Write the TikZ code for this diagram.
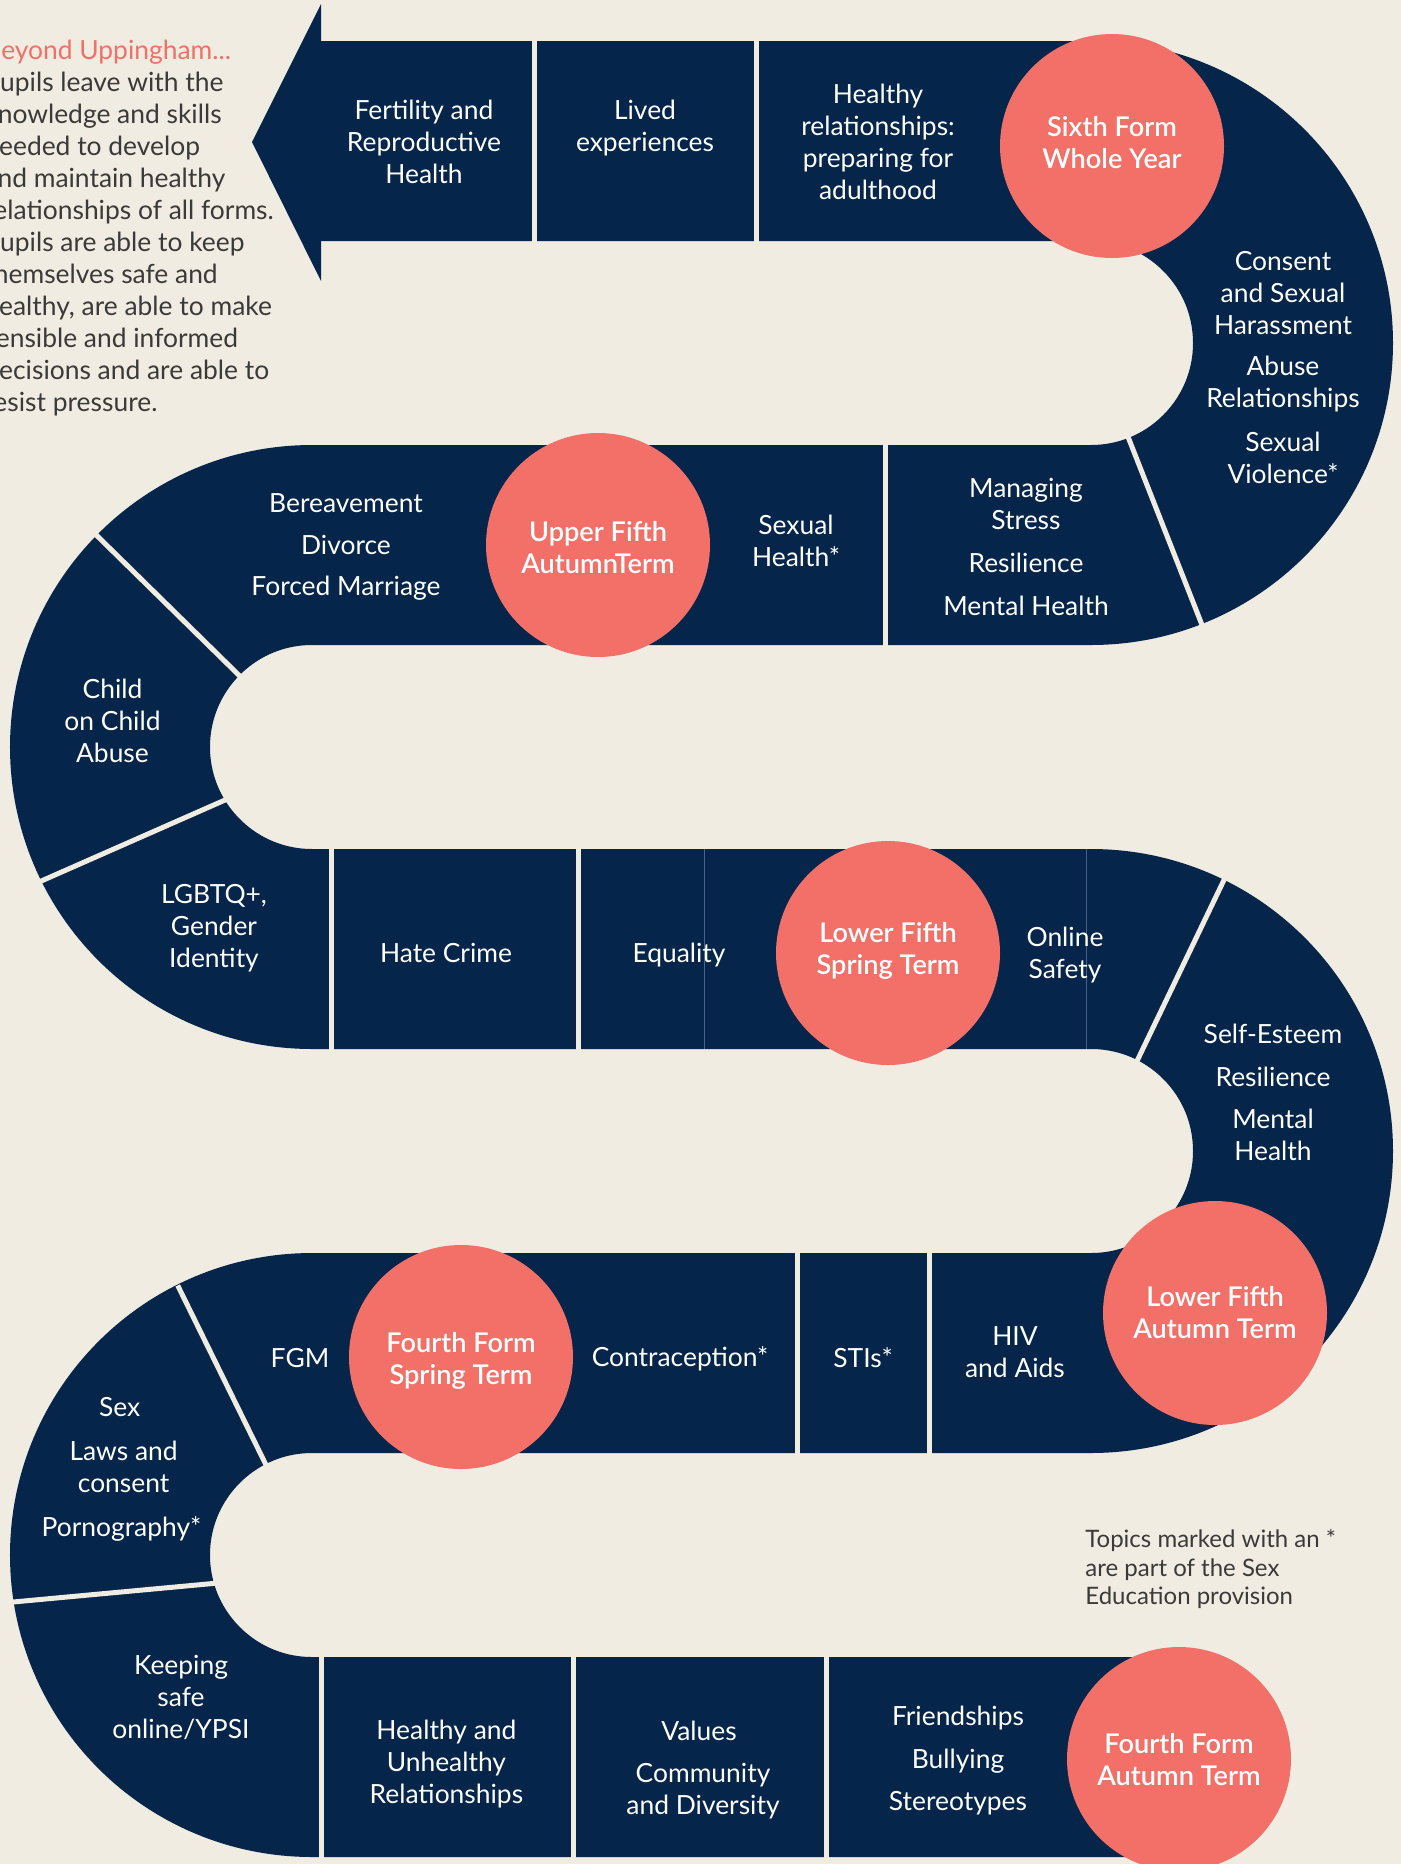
\documentclass[tikz,border=0pt]{standalone}
\usepackage{fontspec}
\setmainfont{Lato}[BoldFont={Lato Semibold}]
\definecolor{navy}{HTML}{05264A}
\definecolor{salmon}{HTML}{F27068}
\definecolor{cream}{HTML}{F0ECE2}
\definecolor{ink}{HTML}{3A3A3A}
\definecolor{seam}{HTML}{4A6282}
\begin{document}
\begin{tikzpicture}[x=0.5pt,y=-0.5pt,
  lbl/.style={align=center,text=white,inner sep=0pt,font=\fontsize{13.2}{16}\selectfont},
  stage/.style={circle,fill=salmon,minimum size=112pt,inner sep=0pt},
  stagetext/.style={align=center,text=white,inner sep=0pt,font=\bfseries\fontsize{13.6}{16}\selectfont},
  divider/.style={draw=cream,line width=2.5pt},
  seamline/.style={draw=seam,line width=0.5pt},
  band/.style={draw=navy,line width=100pt},
]
\useasboundingbox (0,0) rectangle (1401,1864);
\clip (0,0) rectangle (1401,1864);
\fill[cream] (0,0) rectangle (1401,1864);

% snake band
\draw[band] (320,141) -- (1091,141) arc[start angle=-90,end angle=90,radius=202]
  -- (312,545) arc[start angle=270,end angle=90,radius=202]
  -- (1091,949) arc[start angle=-90,end angle=90,radius=202]
  -- (312,1353) arc[start angle=270,end angle=90,radius=202]
  -- (1179,1757);
% arrow head
\fill[navy] (321,4) -- (252,142) -- (321,281) -- cycle;

% dividers row 1
\draw[divider] (534.5,36) -- (534.5,246);
\draw[divider] (756.5,36) -- (756.5,246);
% right turn 1
\draw[divider] (1126.6,433.2) -- (1203.1,627.7);
% row 2
\draw[divider] (885,440) -- (885,650);
% left turn 1
\draw[divider] (242.8,679) -- (93.7,532.5);
\draw[divider] (228.7,798.4) -- (38.3,882.3);
% row 3
\draw[divider] (331,844) -- (331,1054);
\draw[divider] (578,844) -- (578,1054);
\draw[seamline] (704.5,849) -- (704.5,1049);
\draw[seamline] (1086,849) -- (1086,1049);
% right turn 2
\draw[divider] (1135.3,1064.6) -- (1224.4,879.1);
% row 4
\draw[divider] (797,1248) -- (797,1458);
\draw[divider] (929,1248) -- (929,1458);
% left turn 2
\draw[divider] (268.8,1470.6) -- (177.7,1285.4);
\draw[divider] (217,1583.1) -- (8.7,1602.4);
% row 5
\draw[divider] (321,1652) -- (321,1862);
\draw[divider] (573,1652) -- (573,1862);
\draw[divider] (826.5,1652) -- (826.5,1862);

% stage circles
\node[stage] (sixthc) at (1112,146) {};
\node[stage] (upperc) at (598,545) {};
\node[stage] (lfsc) at (888,953) {};
\node[stage] (lfac) at (1215,1313) {};
\node[stage] (ffsc) at (461,1357) {};
\node[stage] (ffac) at (1179,1759) {};
\node[stagetext] (sixth) at (1112,142.5) {Sixth Form\\Whole Year};
\node[stagetext] (upper) at (598,547.5) {Upper Fifth\\AutumnTerm};
\node[stagetext] (lfs) at (888,951) {Lower Fifth\\Spring Term};
\node[stagetext] (lfa) at (1215,1313) {Lower Fifth\\Autumn Term};
\node[stagetext] (ffs) at (461,1360.5) {Fourth Form\\Spring Term};
\node[stagetext] (ffa) at (1179,1760) {Fourth Form\\Autumn Term};

% intro text
\node[anchor=west,inner sep=0pt,align=left,text=ink,font=\fontsize{13.2}{16}\selectfont] (intro) at (-16,228)
 {\textcolor{salmon}{Beyond Uppingham...}\\Pupils leave with the\\knowledge and skills\\needed to develop\\and maintain healthy\\relationships of all forms.\\Pupils are able to keep\\themselves safe and\\healthy, are able to make\\sensible and informed\\decisions and are able to\\resist pressure.};

% row 1
\node[lbl] (fert) at (424,142) {Fertility and\\Reproductive\\Health};
\node[lbl] (lived) at (645,128) {Lived\\experiences};
\node[lbl] (hrel) at (878,142) {Healthy\\relationships:\\preparing for\\adulthood};
% right turn 1
\node[lbl] (consent) at (1283,293) {Consent\\and Sexual\\Harassment};
\node[lbl] (abuse) at (1283,384) {Abuse\\Relationships};
\node[lbl] (sviol) at (1283,458) {Sexual\\Violence*};
% row 2
\node[lbl] (berv) at (346,503) {Bereavement};
\node[lbl] (divorce) at (346,545) {Divorce};
\node[lbl] (forced) at (346,588.5) {Forced Marriage};
\node[lbl] (shealth) at (796,541) {Sexual\\Health*};
\node[lbl] (manage) at (1026,504) {Managing\\Stress};
\node[lbl] (resil1) at (1026,563) {Resilience};
\node[lbl] (mh1) at (1026,606) {Mental Health};
% left turn 1
\node[lbl] (child) at (112.5,721) {Child\\on Child\\Abuse};
\node[lbl] (lgbt) at (214,928) {LGBTQ+,\\Gender\\Identity};
% row 3
\node[lbl] (hate) at (446,953) {Hate Crime};
\node[lbl] (equal) at (679,955.5) {Equality};
\node[lbl] (online) at (1065,955.5) {Online\\Safety};
% right turn 2
\node[lbl] (self) at (1273,1034) {Self-Esteem};
\node[lbl] (resil2) at (1273,1077) {Resilience};
\node[lbl] (mh2) at (1273,1135) {Mental\\Health};
% row 4
\node[lbl] (fgm) at (300,1357.6) {FGM};
\node[lbl] (contra) at (680,1359) {Contraception*};
\node[lbl] (stis) at (863,1357.6) {STIs*};
\node[lbl] (hiv) at (1015,1352) {HIV\\and Aids};
% left turn 2
\node[lbl] (sex) at (119.6,1407) {Sex};
\node[lbl] (laws) at (123.6,1466.5) {Laws and\\consent};
\node[lbl] (porn) at (121.5,1528.5) {Pornography*};
\node[lbl] (keep) at (181,1697) {Keeping\\safe\\online/YPSI};
% row 5
\node[lbl] (hunh) at (446.4,1764) {Healthy and\\Unhealthy\\Relationships};
\node[lbl] (values) at (699,1730.5) {Values};
\node[lbl] (comm) at (703,1791) {Community\\and Diversity};
\node[lbl] (friend) at (958,1718.5) {Friendships};
\node[lbl] (bully) at (958,1761) {Bullying};
\node[lbl] (stereo) at (958,1803.5) {Stereotypes};

% footnote
\node[anchor=west,inner sep=0pt,align=left,text=ink,font=\fontsize{12}{14.25}\selectfont] (note) at (1085,1569.5)
 {Topics marked with an *\\are part of the Sex\\Education provision};
\end{tikzpicture}
\end{document}
